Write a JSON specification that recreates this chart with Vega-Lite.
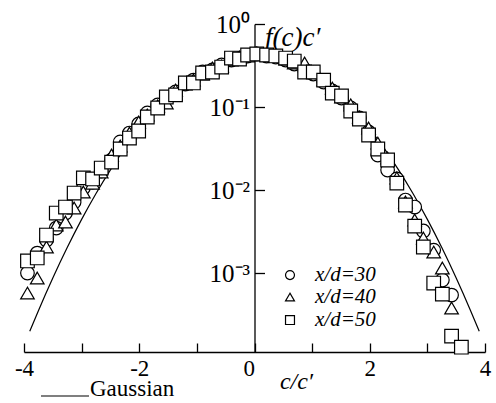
{
  "$schema": "https://vega.github.io/schema/vega-lite/v6.json",
  "width": 461,
  "height": 328,
  "autosize": "none",
  "padding": {"left": 24, "top": 24, "right": 11, "bottom": 51},
  "background": "white",
  "config": {
    "view": {"stroke": null},
    "font": "Liberation Serif"
  },
  "datasets": {
    "measured": [
      {"s": "x/d=30", "x": -3.94, "y": 0.00100},
      {"s": "x/d=30", "x": -3.77, "y": 0.00174},
      {"s": "x/d=30", "x": -3.61, "y": 0.00250},
      {"s": "x/d=30", "x": -3.44, "y": 0.00348},
      {"s": "x/d=30", "x": -3.28, "y": 0.00528},
      {"s": "x/d=30", "x": -3.13, "y": 0.00717},
      {"s": "x/d=30", "x": -2.97, "y": 0.01057},
      {"s": "x/d=30", "x": -2.81, "y": 0.0125},
      {"s": "x/d=30", "x": -2.66, "y": 0.0169},
      {"s": "x/d=30", "x": -2.48, "y": 0.0230},
      {"s": "x/d=30", "x": -2.33, "y": 0.0379},
      {"s": "x/d=30", "x": -2.17, "y": 0.0486},
      {"s": "x/d=30", "x": -2.01, "y": 0.0624},
      {"s": "x/d=30", "x": -1.86, "y": 0.0847},
      {"s": "x/d=30", "x": -1.68, "y": 0.106},
      {"s": "x/d=30", "x": -1.53, "y": 0.128},
      {"s": "x/d=30", "x": -1.37, "y": 0.152},
      {"s": "x/d=30", "x": -1.20, "y": 0.189},
      {"s": "x/d=30", "x": -1.06, "y": 0.211},
      {"s": "x/d=30", "x": -0.90, "y": 0.264},
      {"s": "x/d=30", "x": -0.73, "y": 0.279},
      {"s": "x/d=30", "x": -0.57, "y": 0.321},
      {"s": "x/d=30", "x": -0.40, "y": 0.368},
      {"s": "x/d=30", "x": -0.26, "y": 0.389},
      {"s": "x/d=30", "x": -0.12, "y": 0.412},
      {"s": "x/d=30", "x": 0.04, "y": 0.435},
      {"s": "x/d=30", "x": 0.21, "y": 0.412},
      {"s": "x/d=30", "x": 0.37, "y": 0.400},
      {"s": "x/d=30", "x": 0.54, "y": 0.368},
      {"s": "x/d=30", "x": 0.69, "y": 0.330},
      {"s": "x/d=30", "x": 0.87, "y": 0.279},
      {"s": "x/d=30", "x": 1.02, "y": 0.250},
      {"s": "x/d=30", "x": 1.20, "y": 0.200},
      {"s": "x/d=30", "x": 1.35, "y": 0.156},
      {"s": "x/d=30", "x": 1.51, "y": 0.128},
      {"s": "x/d=30", "x": 1.67, "y": 0.0973},
      {"s": "x/d=30", "x": 1.82, "y": 0.0737},
      {"s": "x/d=30", "x": 1.98, "y": 0.0500},
      {"s": "x/d=30", "x": 2.14, "y": 0.0264},
      {"s": "x/d=30", "x": 2.31, "y": 0.0174},
      {"s": "x/d=30", "x": 2.47, "y": 0.0136},
      {"s": "x/d=30", "x": 2.62, "y": 0.00758},
      {"s": "x/d=30", "x": 2.78, "y": 0.00624},
      {"s": "x/d=30", "x": 2.93, "y": 0.00321},
      {"s": "x/d=30", "x": 3.11, "y": 0.00189},
      {"s": "x/d=30", "x": 3.26, "y": 0.000824},
      {"s": "x/d=30", "x": 3.42, "y": 0.000543},

      {"s": "x/d=40", "x": -3.94, "y": 0.000574},
      {"s": "x/d=40", "x": -3.77, "y": 0.000871},
      {"s": "x/d=40", "x": -3.61, "y": 0.00206},
      {"s": "x/d=40", "x": -3.44, "y": 0.00379},
      {"s": "x/d=40", "x": -3.28, "y": 0.00412},
      {"s": "x/d=40", "x": -3.13, "y": 0.00607},
      {"s": "x/d=40", "x": -2.97, "y": 0.00946},
      {"s": "x/d=40", "x": -2.81, "y": 0.0121},
      {"s": "x/d=40", "x": -2.66, "y": 0.0165},
      {"s": "x/d=40", "x": -2.48, "y": 0.0264},
      {"s": "x/d=40", "x": -2.33, "y": 0.0339},
      {"s": "x/d=40", "x": -2.17, "y": 0.0486},
      {"s": "x/d=40", "x": -2.01, "y": 0.0660},
      {"s": "x/d=40", "x": -1.86, "y": 0.0801},
      {"s": "x/d=40", "x": -1.68, "y": 0.103},
      {"s": "x/d=40", "x": -1.53, "y": 0.112},
      {"s": "x/d=40", "x": -1.37, "y": 0.160},
      {"s": "x/d=40", "x": -1.20, "y": 0.189},
      {"s": "x/d=40", "x": -1.06, "y": 0.211},
      {"s": "x/d=40", "x": -0.90, "y": 0.250},
      {"s": "x/d=40", "x": -0.73, "y": 0.295},
      {"s": "x/d=40", "x": -0.57, "y": 0.312},
      {"s": "x/d=40", "x": -0.40, "y": 0.368},
      {"s": "x/d=40", "x": -0.26, "y": 0.400},
      {"s": "x/d=40", "x": -0.12, "y": 0.423},
      {"s": "x/d=40", "x": 0.04, "y": 0.447},
      {"s": "x/d=40", "x": 0.21, "y": 0.423},
      {"s": "x/d=40", "x": 0.37, "y": 0.423},
      {"s": "x/d=40", "x": 0.54, "y": 0.379},
      {"s": "x/d=40", "x": 0.69, "y": 0.339},
      {"s": "x/d=40", "x": 0.87, "y": 0.339},
      {"s": "x/d=40", "x": 1.02, "y": 0.264},
      {"s": "x/d=40", "x": 1.20, "y": 0.211},
      {"s": "x/d=40", "x": 1.35, "y": 0.169},
      {"s": "x/d=40", "x": 1.51, "y": 0.132},
      {"s": "x/d=40", "x": 1.67, "y": 0.106},
      {"s": "x/d=40", "x": 1.82, "y": 0.0758},
      {"s": "x/d=40", "x": 1.98, "y": 0.0558},
      {"s": "x/d=40", "x": 2.14, "y": 0.0368},
      {"s": "x/d=40", "x": 2.31, "y": 0.0243},
      {"s": "x/d=40", "x": 2.47, "y": 0.0140},
      {"s": "x/d=40", "x": 2.62, "y": 0.00717},
      {"s": "x/d=40", "x": 2.78, "y": 0.00435},
      {"s": "x/d=40", "x": 2.93, "y": 0.00264},
      {"s": "x/d=40", "x": 3.11, "y": 0.00179},
      {"s": "x/d=40", "x": 3.26, "y": 0.00115},
      {"s": "x/d=40", "x": 3.42, "y": 0.000379},

      {"s": "x/d=50", "x": -3.94, "y": 0.00140},
      {"s": "x/d=50", "x": -3.77, "y": 0.00152},
      {"s": "x/d=50", "x": -3.61, "y": 0.00287},
      {"s": "x/d=50", "x": -3.44, "y": 0.00528},
      {"s": "x/d=50", "x": -3.28, "y": 0.00624},
      {"s": "x/d=50", "x": -3.13, "y": 0.00920},
      {"s": "x/d=50", "x": -2.97, "y": 0.0140},
      {"s": "x/d=50", "x": -2.81, "y": 0.0136},
      {"s": "x/d=50", "x": -2.66, "y": 0.0184},
      {"s": "x/d=50", "x": -2.48, "y": 0.0217},
      {"s": "x/d=50", "x": -2.33, "y": 0.0312},
      {"s": "x/d=50", "x": -2.17, "y": 0.0423},
      {"s": "x/d=50", "x": -2.01, "y": 0.0514},
      {"s": "x/d=50", "x": -1.86, "y": 0.0758},
      {"s": "x/d=50", "x": -1.68, "y": 0.0973},
      {"s": "x/d=50", "x": -1.53, "y": 0.132},
      {"s": "x/d=50", "x": -1.37, "y": 0.140},
      {"s": "x/d=50", "x": -1.20, "y": 0.195},
      {"s": "x/d=50", "x": -1.06, "y": 0.195},
      {"s": "x/d=50", "x": -0.90, "y": 0.257},
      {"s": "x/d=50", "x": -0.73, "y": 0.264},
      {"s": "x/d=50", "x": -0.57, "y": 0.303},
      {"s": "x/d=50", "x": -0.40, "y": 0.389},
      {"s": "x/d=50", "x": -0.26, "y": 0.379},
      {"s": "x/d=50", "x": -0.12, "y": 0.423},
      {"s": "x/d=50", "x": 0.04, "y": 0.435},
      {"s": "x/d=50", "x": 0.21, "y": 0.423},
      {"s": "x/d=50", "x": 0.37, "y": 0.412},
      {"s": "x/d=50", "x": 0.54, "y": 0.389},
      {"s": "x/d=50", "x": 0.69, "y": 0.358},
      {"s": "x/d=50", "x": 0.87, "y": 0.264},
      {"s": "x/d=50", "x": 1.02, "y": 0.264},
      {"s": "x/d=50", "x": 1.20, "y": 0.211},
      {"s": "x/d=50", "x": 1.35, "y": 0.147},
      {"s": "x/d=50", "x": 1.51, "y": 0.136},
      {"s": "x/d=50", "x": 1.67, "y": 0.0895},
      {"s": "x/d=50", "x": 1.82, "y": 0.0717},
      {"s": "x/d=50", "x": 1.98, "y": 0.0460},
      {"s": "x/d=50", "x": 2.14, "y": 0.0312},
      {"s": "x/d=50", "x": 2.31, "y": 0.0230},
      {"s": "x/d=50", "x": 2.47, "y": 0.0121},
      {"s": "x/d=50", "x": 2.62, "y": 0.00660},
      {"s": "x/d=50", "x": 2.78, "y": 0.00368},
      {"s": "x/d=50", "x": 2.93, "y": 0.00206},
      {"s": "x/d=50", "x": 3.11, "y": 0.000758},
      {"s": "x/d=50", "x": 3.26, "y": 0.000558},
      {"s": "x/d=50", "x": 3.42, "y": 0.000174},
      {"s": "x/d=50", "x": 3.59, "y": 0.000128}
    ],
    "gaussian": [
      {"c": "Gaussian", "x": -3.9, "y": 0.0001987},
      {"c": "Gaussian", "x": -3.75, "y": 0.0003526},
      {"c": "Gaussian", "x": -3.5, "y": 0.0008727},
      {"c": "Gaussian", "x": -3.25, "y": 0.002029},
      {"c": "Gaussian", "x": -3.0, "y": 0.004432},
      {"c": "Gaussian", "x": -2.75, "y": 0.009094},
      {"c": "Gaussian", "x": -2.5, "y": 0.01753},
      {"c": "Gaussian", "x": -2.25, "y": 0.03174},
      {"c": "Gaussian", "x": -2.0, "y": 0.05399},
      {"c": "Gaussian", "x": -1.75, "y": 0.08628},
      {"c": "Gaussian", "x": -1.5, "y": 0.12952},
      {"c": "Gaussian", "x": -1.25, "y": 0.18265},
      {"c": "Gaussian", "x": -1.0, "y": 0.24197},
      {"c": "Gaussian", "x": -0.75, "y": 0.30114},
      {"c": "Gaussian", "x": -0.5, "y": 0.35207},
      {"c": "Gaussian", "x": -0.25, "y": 0.38667},
      {"c": "Gaussian", "x": 0.0, "y": 0.39894},
      {"c": "Gaussian", "x": 0.25, "y": 0.38667},
      {"c": "Gaussian", "x": 0.5, "y": 0.35207},
      {"c": "Gaussian", "x": 0.75, "y": 0.30114},
      {"c": "Gaussian", "x": 1.0, "y": 0.24197},
      {"c": "Gaussian", "x": 1.25, "y": 0.18265},
      {"c": "Gaussian", "x": 1.5, "y": 0.12952},
      {"c": "Gaussian", "x": 1.75, "y": 0.08628},
      {"c": "Gaussian", "x": 2.0, "y": 0.05399},
      {"c": "Gaussian", "x": 2.25, "y": 0.03174},
      {"c": "Gaussian", "x": 2.5, "y": 0.01753},
      {"c": "Gaussian", "x": 2.75, "y": 0.009094},
      {"c": "Gaussian", "x": 3.0, "y": 0.004432},
      {"c": "Gaussian", "x": 3.25, "y": 0.002029},
      {"c": "Gaussian", "x": 3.5, "y": 0.0008727},
      {"c": "Gaussian", "x": 3.75, "y": 0.0003526},
      {"c": "Gaussian", "x": 3.9, "y": 0.0001987}
    ],
    "key": [
      {"s": "x/d=30", "x": 0.616, "y": 0.000946},
      {"s": "x/d=40", "x": 0.616, "y": 0.000514},
      {"s": "x/d=50", "x": 0.616, "y": 0.000272}
    ]
  },
  "layer": [
    {
      "data": {"name": "gaussian"},
      "mark": {"type": "line", "interpolate": "monotone", "strokeWidth": 1.2, "clip": false},
      "encoding": {
        "x": {
          "field": "x", "type": "quantitative",
          "scale": {"domain": [-4, 4], "nice": false, "zero": false},
          "axis": {
            "orient": "bottom",
            "values": [-4, -3, -2, -1, 0, 1, 2, 3, 4],
            "labelExpr": "datum.value % 2 === 0 ? toString(datum.value) : ''",
            "labelAlign": {"condition": {"test": "datum.value === 0", "value": "right"}, "value": "center"},
            "grid": false,
            "domainColor": "black", "domainWidth": 1.3,
            "tickColor": "black", "tickWidth": 1.3, "tickSize": -9,
            "labelFont": "Liberation Serif", "labelFontSize": 23, "labelColor": "black",
            "labelPadding": 14, "labelFlush": false, "labelOverlap": false,
            "title": "c/c′",
            "titleFont": "Liberation Serif", "titleFontStyle": "italic", "titleFontWeight": "normal",
            "titleFontSize": 24, "titleColor": "black",
            "titleAlign": "center", "titleBaseline": "alphabetic",
            "titleX": 272, "titleY": 36
          }
        },
        "y": {
          "field": "y", "type": "quantitative",
          "scale": {"type": "log", "domain": [0.000112, 1], "nice": false},
          "axis": {
            "orient": "left",
            "offset": -230.5,
            "values": [1, 0.1, 0.01, 0.001],
            "labelExpr": "datum.value === 1 ? '10⁰' : datum.value === 0.1 ? '10⁻¹' : datum.value === 0.01 ? '10⁻²' : '10⁻³'",
            "grid": false,
            "domainColor": "black", "domainWidth": 1.3,
            "tickColor": "black", "tickWidth": 1.3, "tickSize": -10,
            "labelFont": "Liberation Serif", "labelFontSize": 25, "labelColor": "black",
            "labelPadding": 15, "labelFlush": false, "labelOverlap": false,
            "title": "f(c)c′",
            "titleFont": "Liberation Serif", "titleFontStyle": "italic", "titleFontWeight": "normal",
            "titleFontSize": 27, "titleColor": "black", "titleAngle": 0,
            "titleAlign": "left", "titleBaseline": "alphabetic",
            "titleX": 10, "titleY": 21
          }
        },
        "color": {
          "field": "c", "type": "nominal",
          "scale": {"range": ["black"]},
          "legend": {
            "orient": "none", "legendX": 16, "legendY": 347,
            "title": null, "padding": 0,
            "symbolType": "stroke", "symbolSize": 2304, "symbolStrokeWidth": 1.2,
            "symbolStrokeColor": "black",
            "labelFont": "Liberation Serif", "labelFontSize": 23, "labelColor": "black",
            "labelOffset": 0, "labelBaseline": "alphabetic"
          }
        }
      }
    },
    {
      "data": {"name": "measured"},
      "mark": {"type": "point", "filled": false, "fill": "white", "fillOpacity": 1, "stroke": "black", "strokeWidth": 1.2, "size": 185, "opacity": 1, "clip": false},
      "encoding": {
        "x": {"field": "x", "type": "quantitative"},
        "y": {"field": "y", "type": "quantitative"},
        "shape": {
          "field": "s", "type": "nominal",
          "scale": {"domain": ["x/d=30", "x/d=40", "x/d=50"], "range": ["circle", "triangle-up", "square"]},
          "legend": null
        }
      }
    },
    {
      "data": {"name": "key"},
      "mark": {"type": "point", "filled": false, "fill": "white", "fillOpacity": 1, "stroke": "black", "strokeWidth": 1.2, "size": 80, "opacity": 1, "clip": false},
      "encoding": {
        "x": {"field": "x", "type": "quantitative"},
        "y": {"field": "y", "type": "quantitative"},
        "shape": {"field": "s", "type": "nominal", "legend": null}
      }
    },
    {
      "data": {"name": "key"},
      "mark": {"type": "text", "align": "left", "baseline": "middle", "dx": 25, "font": "Liberation Serif", "fontStyle": "italic", "fontSize": 21, "color": "black", "clip": false},
      "encoding": {
        "x": {"field": "x", "type": "quantitative"},
        "y": {"field": "y", "type": "quantitative"},
        "text": {"field": "s"}
      }
    }
  ]
}
